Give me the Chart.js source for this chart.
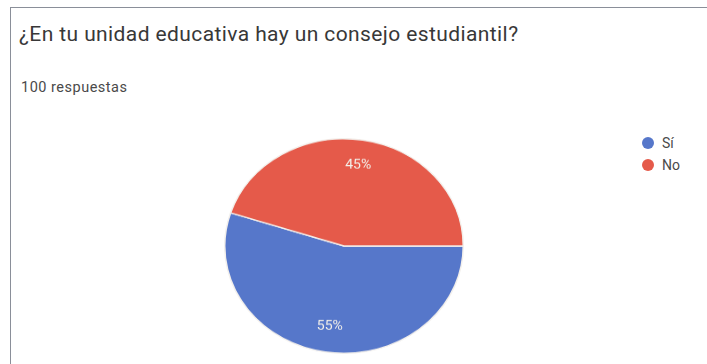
<!DOCTYPE html>
<html lang="es">
<head>
    <meta charset="UTF-8">
    <title>Consejo estudiantil</title>
    <script src="https://cdn.jsdelivr.net/npm/chart.js"></script>
    <style>
        html, body { margin: 0; padding: 0; background: #fff; overflow: hidden; }
        body { width: 707px; height: 364px; position: relative; font-family: Roboto, Arial, sans-serif; }
        .card {
            position: absolute; left: 10px; top: 7px; width: 720px; height: 400px;
            border: 1px solid #8a8f99; box-sizing: border-box;
        }
        .title { position: absolute; left: 19px; top: 22px; font-size: 21px; letter-spacing: 0.4px; color: #383838; }
        .count { position: absolute; left: 21px; top: 79px; font-size: 14.5px; letter-spacing: 0.5px; color: #4a4a4a; }
        /* the scanned pie is a bit squashed vertically */
        .pieBox { position: absolute; left: 224px; top: 138px; width: 240px; height: 240px; transform: scaleY(0.9); transform-origin: top left; }
        .legend { position: absolute; left: 642px; top: 132px; font-size: 14px; color: #4a4a4a; }
        .legend div { height: 22px; display: flex; align-items: center; }
        .legend span { display: inline-block; width: 12px; height: 12px; border-radius: 50%; margin-right: 8px; }
    </style>
</head>
<body>
    <div class="card"></div>
    <div class="title">¿En tu unidad educativa hay un consejo estudiantil?</div>
    <div class="count">100 respuestas</div>
    <div class="pieBox"><canvas id="pieChart"></canvas></div>
    <div class="legend" id="legend"></div>
    <script>
        const labels = ['Sí', 'No'];
        const responses = [55, 45];
        const colors = ['#5677ca', '#e55a4a'];

        // legend built from the same arrays
        const legendEl = document.getElementById('legend');
        labels.forEach((l, i) => {
            const row = document.createElement('div');
            row.innerHTML = '<span style="background:' + colors[i] + '"></span>' + l;
            legendEl.appendChild(row);
        });

        // percent labels inside the slices, like Google Forms
        const percentLabels = {
            id: 'percentLabels',
            afterDatasetsDraw(chart) {
                const ctx = chart.ctx;
                const meta = chart.getDatasetMeta(0);
                const total = responses.reduce((a, b) => a + b, 0);
                ctx.save();
                ctx.font = '14px Roboto, Arial, sans-serif';
                ctx.fillStyle = '#f4f0ea';
                ctx.textAlign = 'center';
                ctx.textBaseline = 'middle';
                meta.data.forEach((arc, i) => {
                    const mid = (arc.startAngle + arc.endAngle) / 2;
                    const r = arc.outerRadius * 0.76;
                    const x = arc.x + Math.cos(mid) * r;
                    const y = arc.y + Math.sin(mid) * r;
                    ctx.fillText(Math.round(responses[i] / total * 100) + '%', x, y);
                });
                ctx.restore();
            }
        };

        const ctxPie = document.getElementById('pieChart').getContext('2d');
        const pieChart = new Chart(ctxPie, {
            type: 'pie',
            data: {
                labels: labels,
                datasets: [{
                    data: responses,
                    backgroundColor: colors,
                    borderColor: '#f3f0ec',
                    borderWidth: 1.5
                }]
            },
            options: {
                responsive: true,
                maintainAspectRatio: false,
                animation: false,
                rotation: 90,
                layout: { padding: 0 },
                plugins: {
                    legend: { display: false },
                    tooltip: { enabled: false }
                }
            },
            plugins: [percentLabels]
        });
    </script>
</body>
</html>
